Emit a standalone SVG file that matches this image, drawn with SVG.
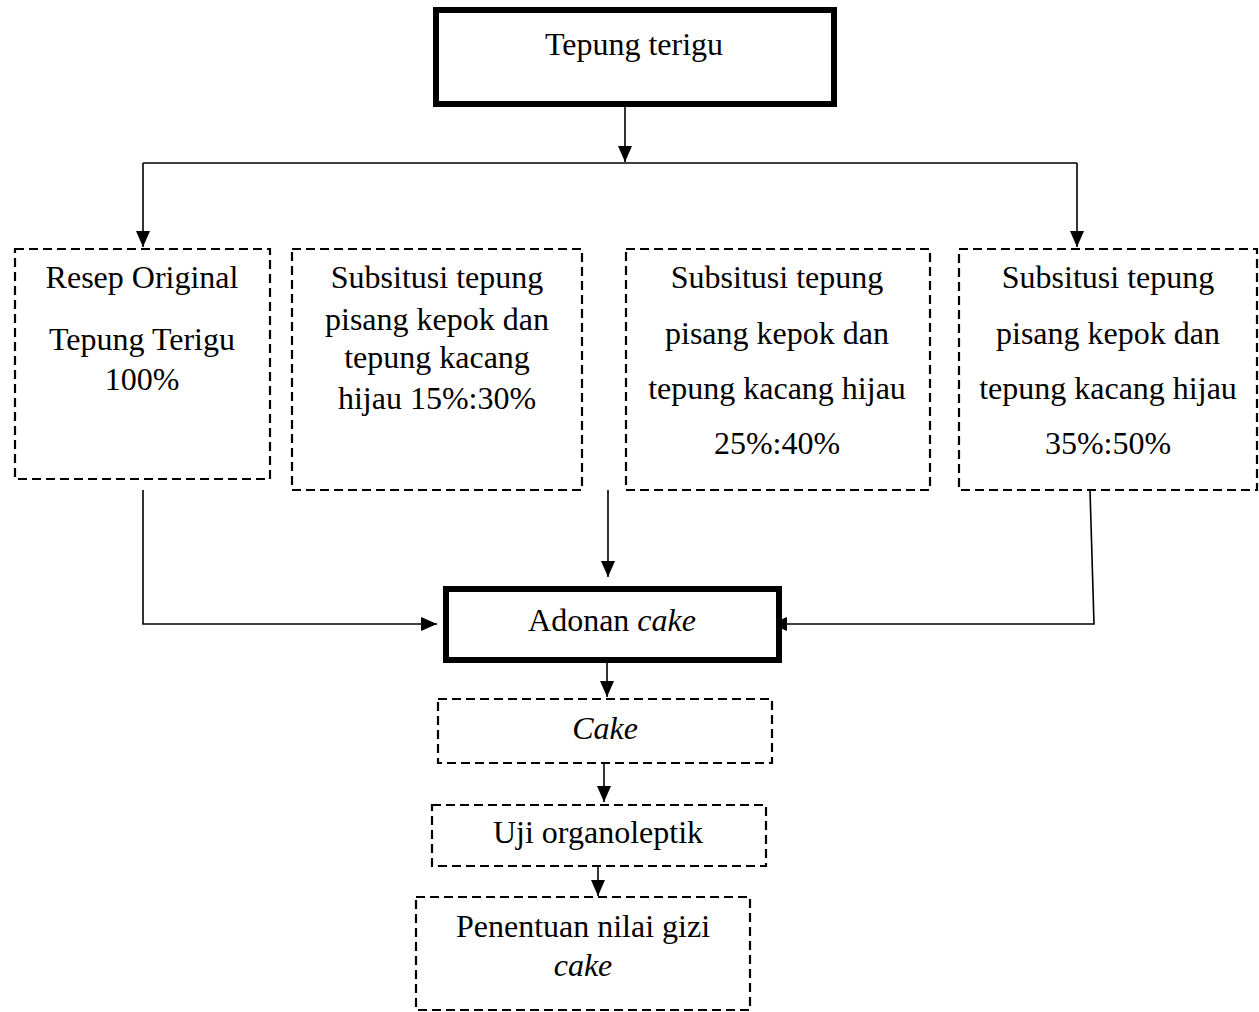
<svg xmlns="http://www.w3.org/2000/svg" width="1259" height="1012" viewBox="0 0 1259 1012">
<style>
text{font-family:"Liberation Serif","Times New Roman",serif;font-size:32px;fill:#000;text-anchor:middle}
.i{font-style:italic}
.thick{fill:#fff;stroke:#000;stroke-width:6}
.dash{fill:#fff;stroke:#000;stroke-width:2.2;stroke-dasharray:9 5}
.c{fill:none;stroke:#000;stroke-width:1.6}
</style>
<defs>
<marker id="ah" markerUnits="userSpaceOnUse" markerWidth="18" markerHeight="16" refX="16" refY="7" orient="auto">
<path d="M0,0 L16,7 L0,14 z" fill="#000"/>
</marker>
</defs>
<rect width="1259" height="1012" fill="#fff"/>
<g id="connectors">
<path class="c" d="M625,107 V162" marker-end="url(#ah)"/>
<path class="c" d="M143,163 H1077"/>
<path class="c" d="M143,163 V247" marker-end="url(#ah)"/>
<path class="c" d="M1077,163 V247" marker-end="url(#ah)"/>
<path class="c" d="M143,490 V624 H437" marker-end="url(#ah)"/>
<path class="c" d="M608,490 V577" marker-end="url(#ah)"/>
<path class="c" d="M1090,490 L1094,624 H771" marker-end="url(#ah)"/>
<path class="c" d="M607,663 V697" marker-end="url(#ah)"/>
<path class="c" d="M604,763 V802" marker-end="url(#ah)"/>
<path class="c" d="M598,866 V896" marker-end="url(#ah)"/>
</g>
<g id="n-tepung">
<rect class="thick" x="436" y="10" width="398" height="94"/>
<text x="634" y="55">Tepung terigu</text>
</g>
<g id="n-resep">
<rect class="dash" x="15" y="249" width="255" height="230"/>
<text x="142" y="288">Resep Original</text>
<text x="142" y="350">Tepung Terigu</text>
<text x="142" y="390">100%</text>
</g>
<g id="n-sub1">
<rect class="dash" x="292" y="249" width="290" height="241"/>
<text x="437" y="288">Subsitusi tepung</text>
<text x="437" y="330">pisang kepok dan</text>
<text x="437" y="368">tepung kacang</text>
<text x="437" y="409">hijau 15%:30%</text>
</g>
<g id="n-sub2">
<rect class="dash" x="626" y="249" width="304" height="241"/>
<text x="777" y="288">Subsitusi tepung</text>
<text x="777" y="344">pisang kepok dan</text>
<text x="777" y="399">tepung kacang hijau</text>
<text x="777" y="454">25%:40%</text>
</g>
<g id="n-sub3">
<rect class="dash" x="959" y="249" width="298" height="241"/>
<text x="1108" y="288">Subsitusi tepung</text>
<text x="1108" y="344">pisang kepok dan</text>
<text x="1108" y="399">tepung kacang hijau</text>
<text x="1108" y="454">35%:50%</text>
</g>
<g id="n-adonan">
<rect class="thick" x="446" y="589" width="333" height="71"/>
<text x="612" y="631">Adonan <tspan class="i">cake</tspan></text>
</g>
<g id="n-cake">
<rect class="dash" x="438" y="699" width="334" height="64"/>
<text class="i" x="605" y="739">Cake</text>
</g>
<g id="n-uji">
<rect class="dash" x="432" y="805" width="334" height="61"/>
<text x="598" y="843">Uji organoleptik</text>
</g>
<g id="n-gizi">
<rect class="dash" x="416" y="897" width="334" height="113"/>
<text x="583" y="937">Penentuan nilai gizi</text>
<text class="i" x="583" y="976">cake</text>
</g>
</svg>
